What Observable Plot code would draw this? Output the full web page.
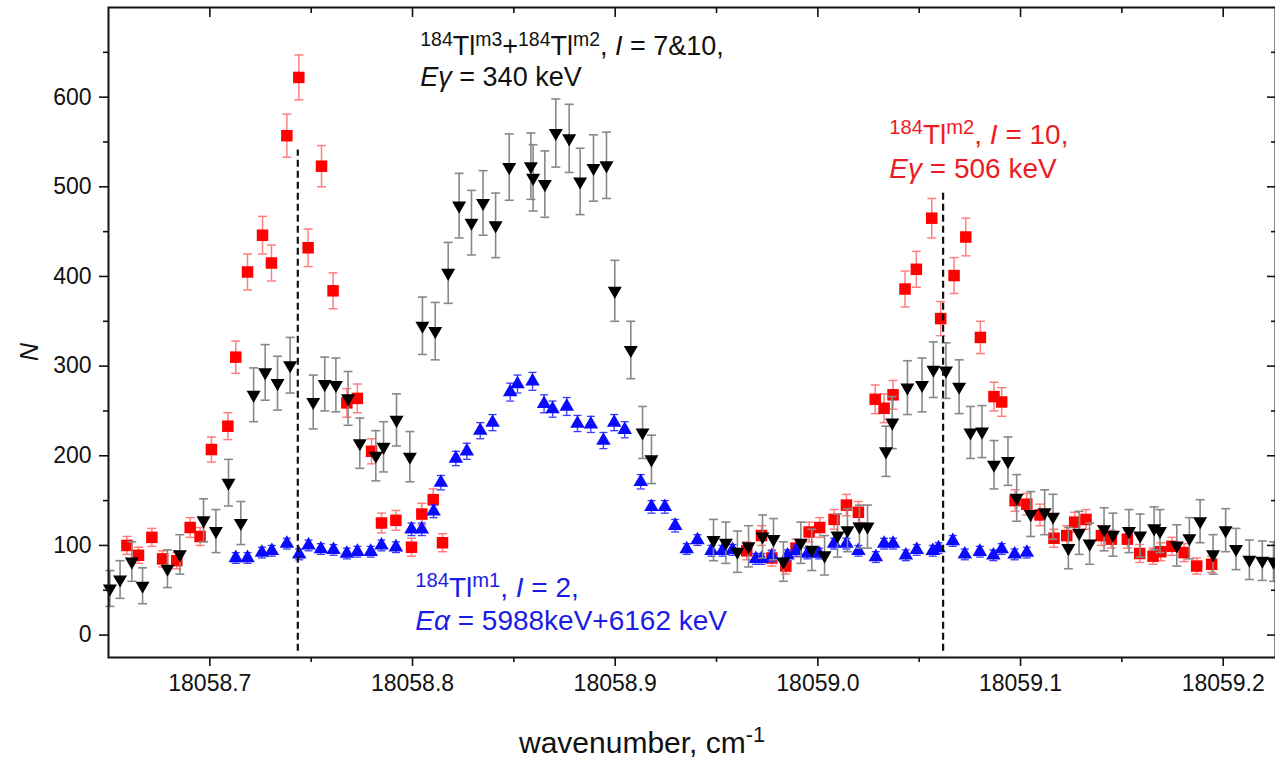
<!DOCTYPE html>
<html><head><meta charset="utf-8">
<script src="https://cdn.jsdelivr.net/npm/d3@7"></script>
<script src="https://cdn.jsdelivr.net/npm/@observablehq/plot@0.6"></script>
<style>
html,body{margin:0;padding:0;background:#fff;}
#chart svg{display:block;}
</style></head><body><div id="chart"></div>
<script>
// ---- data: 184Tl m2 (506 keV gamma), red squares ----
const redX = [18058.6591,18058.6648,18058.6714,18058.6767,18058.6837,18058.6903,18058.6952,18058.7008,18058.7089,18058.7128,
18058.7186,18058.7260,18058.7304,18058.7380,18058.7439,18058.7485,18058.7551,18058.7608,18058.7676,18058.7728,
18058.7798,18058.7847,18058.7918,18058.7995,18058.8046,18058.8102,18058.8148,
18058.9649,18058.9722,18058.9773,18058.9842,18058.9892,18058.9957,18059.0009,18059.0080,18059.0141,18059.0200,
18059.0283,18059.0327,18059.0371,18059.0430,18059.0486,18059.0562,18059.0606,18059.0672,18059.0730,18059.0802,
18059.0869,18059.0907,18059.0973,18059.1031,18059.1096,18059.1165,18059.1228,18059.1267,18059.1323,18059.1399,
18059.1448,18059.1527,18059.1588,18059.1654,18059.1692,18059.1747,18059.1807,18059.1869,18059.1943];
const redY = [100,89,109,85,83,120,110,207,233,310, 405,446,415,557,622,432,523,384,259,264, 205,125,128,98,135,151,103,
94,111,86,77,97,115,120,129,145,137, 263,253,268,386,408,465,353,401,444,332, 266,260,150,146,134,108,111,126,129,111,
107,107,91,88,93,99,92,77,79];
const redErr = [10,9,10,9,9,11,10,14,15,18, 20,21,20,24,25,21,23,20,16,16, 14,11,11,10,12,12,10,
10,11,9,9,10,11,11,11,12,12, 16,16,16,20,20,22,19,20,21,18, 16,16,12,12,12,10,11,11,11,11, 10,10,10,9,10,10,10,9,9];

// ---- 184Tl m3+m2 (340 keV gamma), black down triangles ----
const blackX = [18058.6507,18058.6557,18058.6615,18058.6668,18058.6791,18058.6852,18058.6969,18058.7030,18058.7092,18058.7153,
18058.7216,18058.7273,18058.7334,18058.7396,18058.7510,18058.7567,18058.7622,18058.7682,18058.7740,18058.7819,
18058.7857,18058.7921,18058.7987,18058.8049,18058.8112,18058.8176,18058.8230,18058.8291,18058.8348,18058.8410,
18058.8477,18058.8584,18058.8595,18058.8653,18058.8707,18058.8773,18058.8827,18058.8893,18058.8957,18058.8998,
18058.9077,18058.9135,18058.9179,18058.9485,18058.9546,18058.9603,18058.9658,18058.9727,18058.9781,18058.9830,
18058.9916,18058.9970,18059.0033,18059.0097,18059.0146,18059.0205,18059.0245,18059.0336,18059.0367,18059.0442,
18059.0514,18059.0570,18059.0632,18059.0697,18059.0753,18059.0810,18059.0869,18059.0938,18059.0981,18059.1050,
18059.1119,18059.1160,18059.1236,18059.1289,18059.1341,18059.1412,18059.1456,18059.1535,18059.1590,18059.1659,
18059.1688,18059.1771,18059.1833,18059.1886,18059.1950,18059.2012,18059.2063,18059.2129,18059.2193,18059.2248];
const blackY = [52,62,82,55,74,90,128,116,170,125, 268,293,281,301,260,280,279,264,214,200,
210,240,199,345,339,404,479,460,482,457, 522,523,510,503,560,554,506,521,524,384,
318,226,196,106,103,93,99,110,107,82, 103,95,89,111,117,121,121,205,237,276,
279,296,295,277,226,227,190,194,153,135, 137,132,97,114,102,118,112,116,111,119,
116,100,108,127,90,117,96,84,83,82];
const blackErr = [20,21,22,20,21,22,24,24,26,24, 30,31,30,31,30,30,30,30,28,28,
28,29,28,32,32,34,36,36,36,36, 37,37,37,37,38,38,37,37,37,34,
32,29,27,23,23,23,23,24,23,22, 23,23,22,24,24,24,24,28,29,30,
30,31,31,30,29,29,27,27,26,25, 25,25,23,24,23,24,24,24,24,24,
24,23,23,24,22,24,23,22,22,22];

// ---- 184Tl m1 (alpha), blue up triangles ----
const blueX = [18058.7128,18058.7186,18058.7257,18058.7306,18058.7380,18058.7441,18058.7487,18058.7548,18058.7610,18058.7676,
18058.7728,18058.7794,18058.7847,18058.7918,18058.7995,18058.8046,18058.8104,18058.8140,18058.8214,18058.8268,
18058.8334,18058.8395,18058.8482,18058.8518,18058.8592,18058.8649,18058.8691,18058.8761,18058.8814,18058.8880,
18058.8942,18058.8995,18058.9047,18058.9126,18058.9179,18058.9245,18058.9296,18058.9353,18058.9406,18058.9475,
18058.9529,18058.9579,18058.9694,18058.9722,18058.9773,18058.9850,18058.9892,18058.9949,18059.0006,18059.0080,
18059.0141,18059.0200,18059.0286,18059.0327,18059.0371,18059.0434,18059.0488,18059.0567,18059.0595,18059.0666,
18059.0725,18059.0799,18059.0866,18059.0907,18059.0971,18059.1031];
const blueY = [86,86,92,94,102,90,100,96,95,91, 93,93,100,98,118,118,138,170,197,205,
228,237,271,280,283,258,252,255,236,235, 217,237,229,171,143,143,122,96,106,94,
94,95,85,85,88,89,94,91,91,102, 102,94,87,102,102,89,95,94,97,105,
90,93,89,96,90,92];
const blueErr = [6,6,6,6,6,6,6,6,6,6, 6,6,6,6,7,7,7,8,8,9,
9,9,10,10,10,10,9,10,9,9, 9,9,9,8,7,7,7,6,6,6,
6,6,6,6,6,6,6,6,6,6, 6,6,6,6,6,6,6,6,6,6, 6,6,6,6,6,6];

// ---- reference lines (dashed) ----
const dashX = [18058.7434, 18059.0618];
const dashTop = [541, 494];
const dashBottom = [-18, -18];

// ---- ticks ----
const xMajor = [18058.7, 18058.8, 18058.9, 18059.0, 18059.1, 18059.2];
const xTickLabels = ["18058.7", "18058.8", "18058.9", "18059.0", "18059.1", "18059.2"];
const xMinor = [18058.75, 18058.85, 18058.95, 18059.05, 18059.15];
const yMajor = [0, 100, 200, 300, 400, 500, 600];
const yTickLabels = ["0", "100", "200", "300", "400", "500", "600"];
const yMinor = [50, 150, 250, 350, 450, 550, 650];

// ---- annotations (anchor in data coordinates) ----
const annBlack = {x: 18058.8041, y: [646, 612], color: "#111",
  lines: [[["184","sup"],["Tl"],["m3","sup"],["+"],["184","sup"],["Tl"],["m2","sup"],[", "],["I","it"],[" = 7&10,"]],
          [["E","it"],["\u03b3","it"],[" = 340 keV"]]]};
const annRed = {x: 18059.0355, y: [547, 509], color: "#ec1c24",
  lines: [[["184","sup"],["Tl"],["m2","sup"],[", "],["I","it"],[" = 10,"]],
          [["E","it"],["\u03b3","it"],[" = 506 keV"]]]};
const annBlue = {x: 18058.8016, y: [42, 5], color: "#1c1ce6",
  lines: [[["184","sup"],["Tl"],["m1","sup"],[", "],["I","it"],[" = 2,"]],
          [["E","it"],["\u03b1","it"],[" = 5988keV+6162 keV"]]]};

const FONT = "'Liberation Sans', Arial, Helvetica, sans-serif";
const toRows = (xs, ys, es) => xs.map((x, i) => ({x, y: ys[i], e: es[i]}));
const red = toRows(redX, redY, redErr);
const black = toRows(blackX, blackY, blackErr);
const blue = toRows(blueX, blueY, blueErr);
const dashes = dashX.map((x, i) => ({x, y1: dashBottom[i], y2: dashTop[i]}));
const xLab = new Map(xMajor.map((v, i) => [v, xTickLabels[i]]));
const yLab = new Map(yMajor.map((v, i) => [v, yTickLabels[i]]));

// custom symbols
const capSym = {draw(ctx, size) { const w = Math.sqrt(size); ctx.moveTo(-w / 2, 0); ctx.lineTo(w / 2, 0); }};
const sqSym = {draw(ctx, size) { const s = Math.sqrt(size); ctx.rect(-s / 2, -s / 2, s, s); }};
const upTri = {draw(ctx, size) { const s = Math.sqrt(size * 4 / Math.sqrt(3)), h = s * Math.sqrt(3) / 2;
  ctx.moveTo(0, -2 * h / 3); ctx.lineTo(s / 2, h / 3); ctx.lineTo(-s / 2, h / 3); ctx.closePath(); }};
const downTri = {draw(ctx, size) { const s = Math.sqrt(size * 4 / Math.sqrt(3)), h = s * Math.sqrt(3) / 2;
  ctx.moveTo(0, 2 * h / 3); ctx.lineTo(s / 2, -h / 3); ctx.lineTo(-s / 2, -h / 3); ctx.closePath(); }};
// r such that symbol area = pi r^2
const rForSquare = s => s / Math.sqrt(Math.PI);
const rForTri = s => Math.sqrt(Math.sqrt(3) / 4 * s * s / Math.PI);
const rForCap = w => w / Math.sqrt(Math.PI);

function errMarks(data, color, sw, capW) {
  const r = rForCap(capW);
  return [
    Plot.ruleX(data, {x: "x", y1: d => d.y - d.e, y2: d => d.y + d.e, stroke: color, strokeWidth: sw}),
    Plot.dot(data, {x: "x", y: d => d.y + d.e, symbol: capSym, r, stroke: color, strokeWidth: sw, fill: "none"}),
    Plot.dot(data, {x: "x", y: d => d.y - d.e, symbol: capSym, r, stroke: color, strokeWidth: sw, fill: "none"})
  ];
}
const noText = () => "";

const chart = Plot.plot({
  width: 1275,
  height: 766,
  marginTop: 7,
  marginBottom: 109,
  marginLeft: 108,
  marginRight: 0,
  style: {fontFamily: FONT, fontSize: "23px", color: "#111", background: "#fff"},
  x: {domain: [18058.65, 18059.2258]},
  y: {domain: [-25, 700]},
  marks: [
    ...errMarks(red, "#ff7f7f", 1.5, 9),
    Plot.dot(red, {x: "x", y: "y", symbol: sqSym, r: rForSquare(11.5), fill: "#ff0000", stroke: "none"}),
    ...errMarks(blue, "#3a3aff", 1.3, 8),
    Plot.dot(blue, {x: "x", y: "y", symbol: upTri, r: rForTri(14.5), fill: "#0a0aff", stroke: "none"}),
    ...errMarks(black, "#888888", 1.6, 9),
    Plot.dot(black, {x: "x", y: "y", symbol: downTri, r: rForTri(14), fill: "#000", stroke: "none"}),
    Plot.ruleX(dashes, {x: "x", y1: "y1", y2: "y2", stroke: "#111", strokeWidth: 2.2, strokeDasharray: "7,4"}),
    Plot.frame({stroke: "#111", strokeWidth: 2}),
    Plot.axisX(xMajor, {anchor: "bottom", tickSize: 9, tickPadding: 8, tickFormat: d => xLab.get(d), fontSize: 23, label: null, strokeWidth: 1.6}),
    Plot.axisX(xMinor, {anchor: "bottom", tickSize: 5, tickFormat: noText, label: null, strokeWidth: 1.6}),
    Plot.axisX(xMajor, {anchor: "top", tickSize: -9, tickFormat: noText, label: null, strokeWidth: 1.6}),
    Plot.axisX(xMinor, {anchor: "top", tickSize: -5, tickFormat: noText, label: null, strokeWidth: 1.6}),
    Plot.axisY(yMajor, {anchor: "left", tickSize: 9, tickPadding: 8, tickFormat: d => yLab.get(d), fontSize: 23, label: null, strokeWidth: 1.6}),
    Plot.axisY(yMinor, {anchor: "left", tickSize: 5, tickFormat: noText, label: null, strokeWidth: 1.6}),
    Plot.axisY(yMajor, {anchor: "right", tickSize: -9, tickFormat: noText, label: null, strokeWidth: 1.6}),
    Plot.axisY(yMinor, {anchor: "right", tickSize: -5, tickFormat: noText, label: null, strokeWidth: 1.6})
  ]
});
document.getElementById("chart").appendChild(chart);

const svgEl = chart.tagName.toLowerCase() === "svg" ? chart : chart.querySelector("svg");
const svg = d3.select(svgEl);
const sx = chart.scale("x"), sy = chart.scale("y");

function richText(px, py, runs, color, size, anchor) {
  const t = svg.append("text").attr("x", px).attr("y", py).attr("fill", color)
    .attr("font-family", FONT).attr("font-size", size).attr("text-anchor", anchor || "start");
  let raised = false;
  const shift = size * 0.36;
  for (const [str, kind] of runs) {
    const ts = t.append("tspan").text(str);
    if (kind === "sup") {
      ts.attr("font-size", size * 0.72);
      if (!raised) { ts.attr("dy", -shift); raised = true; }
    } else {
      if (raised) { ts.attr("dy", shift); raised = false; }
      if (kind === "it") ts.attr("font-style", "italic");
    }
  }
  return t;
}
function annotate(a, size) {
  a.lines.forEach((runs, i) => richText(sx.apply(a.x), sy.apply(a.y[i]), runs, a.color, size));
}
annotate(annBlack, 27);
annotate(annRed, 28);
annotate(annBlue, 28);

// axis titles
richText(642, 753, [["wavenumber, cm"], ["-1", "sup"]], "#111", 30, "middle");
svg.append("text").attr("transform", "translate(38,352) rotate(-90)").attr("text-anchor", "middle")
  .attr("font-family", FONT).attr("font-size", 25).attr("font-style", "italic").attr("fill", "#111").text("N");
</script>
</body></html>
